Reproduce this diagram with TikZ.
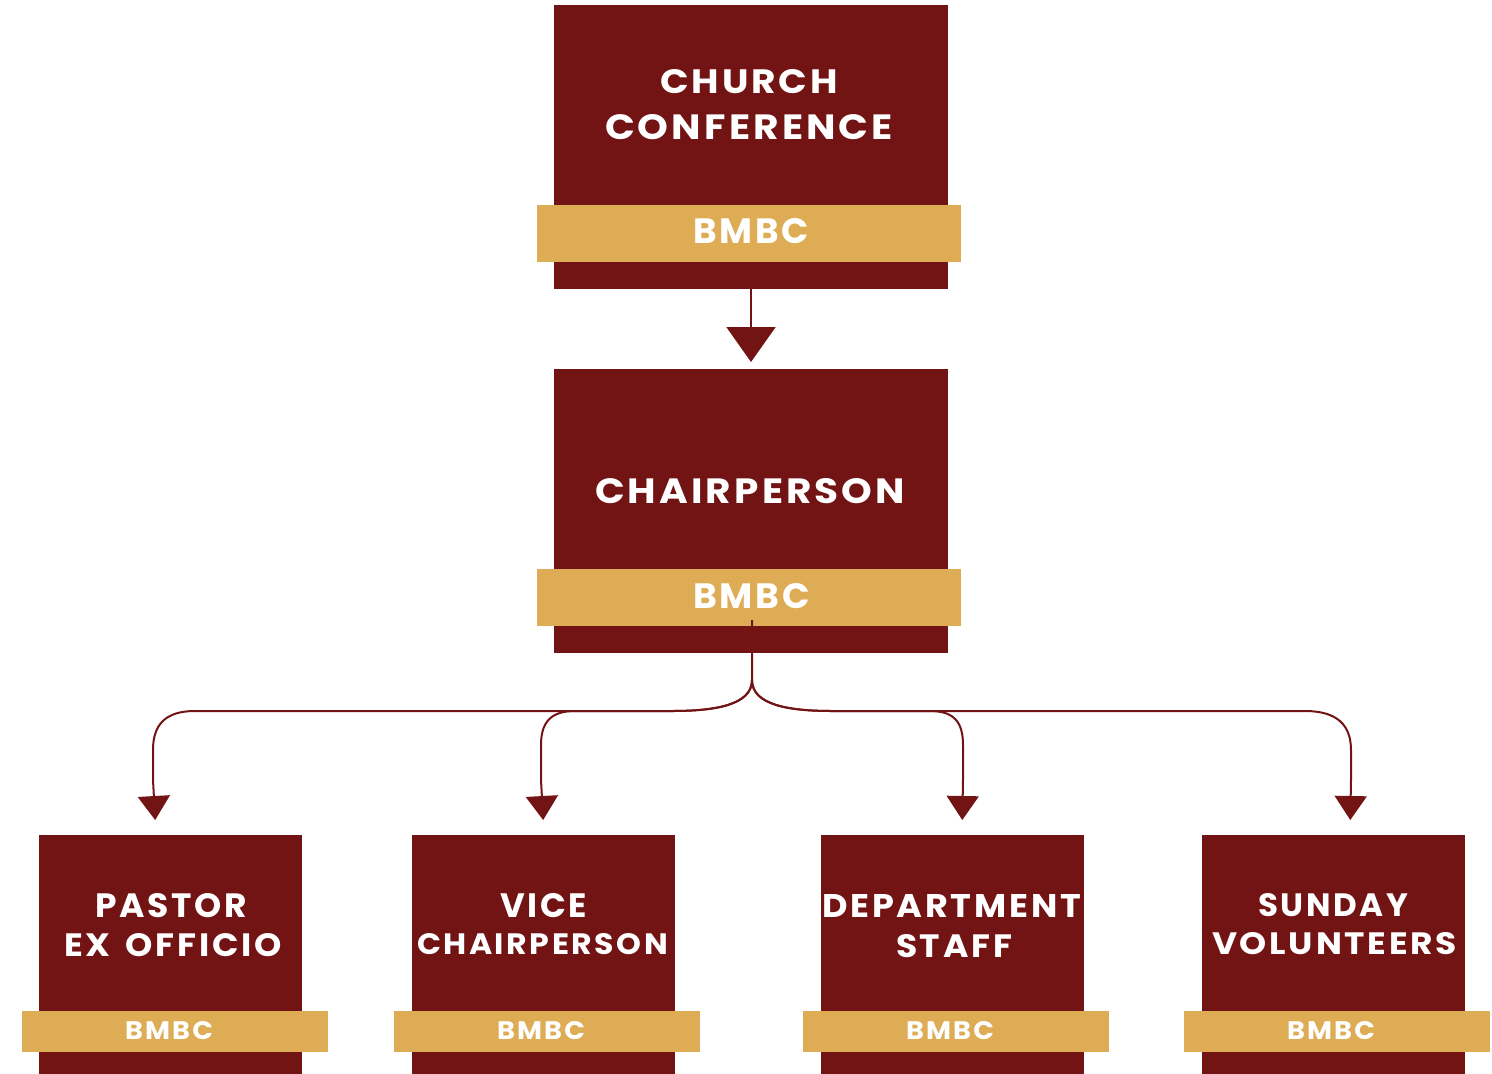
\documentclass[tikz,border=0pt]{standalone}
\usepackage{fontspec}
\usepackage{graphicx}
\setmainfont{Poppins}
\newfontfamily\lsfont{Poppins}[LetterSpace=8]
\usetikzlibrary{arrows.meta,calc}
\definecolor{maroon}{HTML}{721314}
\definecolor{gold}{HTML}{DDAC55}
\newcommand{\fitline}[3]{\resizebox{#1pt}{#2pt}{\lsfont\bfseries #3}}
\begin{document}
\begin{tikzpicture}[x=1pt,y=-1pt,
  box/.style={fill=maroon, inner sep=0pt, outer sep=0pt},
  bar/.style={fill=gold, inner sep=0pt, outer sep=0pt},
  txt/.style={text=white, inner sep=0pt, outer sep=0pt, anchor=base west},
  conn/.style={draw=maroon, line width=2pt},
  bigarrow/.style={conn, -{Triangle[width=49pt,length=35pt]}, shorten >=7pt},
  smallarrow/.style={conn, -{Triangle[width=32pt,length=24pt]}, shorten >=15pt}
]
\useasboundingbox (0,0) rectangle (1492,1074);

% top box
\node[box, minimum width=394pt, minimum height=284pt] (b1) at (751,147) {};
\node[bar, minimum width=424pt, minimum height=57pt] (bar1) at (749,233.5) {};
\node[txt] (t1a) at (660,93) {\fitline{178}{24}{CHURCH}};
\node[txt] (t1b) at (605,139) {\fitline{288}{25}{CONFERENCE}};
\node[txt] (m1) at (693,243) {\fitline{116}{25}{BMBC}};

% middle box
\node[box, minimum width=394pt, minimum height=284pt] (b2) at (751,511) {};
\node[bar, minimum width=424pt, minimum height=57pt] (bar2) at (749,597.5) {};
\node[txt] (t2) at (595,503) {\fitline{310}{25}{CHAIRPERSON}};
\node[txt] (m2) at (693,608) {\fitline{117}{25}{BMBC}};

% bottom boxes
\foreach \n/\cx/\bx/\mx in {p/170.5/175/125, v/543.5/547/497, d/952.5/956/906, s/1333.5/1337/1287}{
  \node[box, minimum width=263pt, minimum height=240pt] (b\n) at (\cx,955) {};
  \node[bar, minimum width=306pt, minimum height=41pt] (bar\n) at (\bx,1031.5) {};
  \node[txt] (m\n) at (\mx,1039) {\fitline{88}{18}{BMBC}};
}
\node[txt] (tpa) at (95,917) {\fitline{152}{24}{PASTOR}};
\node[txt] (tpb) at (64,956) {\fitline{218}{23}{EX\hspace{0.15em} OFFICIO}};
\node[txt] (tva) at (500,917) {\fitline{87}{24}{VICE}};
\node[txt] (tvb) at (417,954) {\fitline{251}{21}{CHAIRPERSON}};
\node[txt] (tda) at (822,917) {\fitline{259}{23}{DEPARTMENT}};
\node[txt] (tdb) at (896,957) {\fitline{116}{23}{STAFF}};
\node[txt] (tsa) at (1258,916) {\fitline{150}{23}{SUNDAY}};
\node[txt] (tsb) at (1212,954) {\fitline{245}{22}{VOLUNTEERS}};

% connectors
\draw[bigarrow] (b1.south) -- (b2.north);

\coordinate (src) at ($(bar2.south)+(3,-6)$);
\coordinate (split) at (752,680);
\draw[smallarrow] (src) -- (split) .. controls (752,705) and (715,711) .. (672,711) -- (195,711) .. controls (165,711) and (153,725) .. (153,750) -- (153,780) -- (bp.north -| 156,0);
\draw[smallarrow] (split) .. controls (752,705) and (715,711) .. (672,711) -- (575,711) .. controls (551,711) and (541,722) .. (541,745) -- (541,780) -- (bv.north -| 544,0);
\draw[smallarrow] (split) .. controls (752,705) and (789,711) .. (832,711) -- (930,711) .. controls (954,711) and (963,722) .. (963,745) -- (963,780) -- (bd.north -| 962,0);
\draw[smallarrow] (split) .. controls (752,705) and (789,711) .. (832,711) -- (1305,711) .. controls (1337,711) and (1351,725) .. (1351,750) -- (1351,780) -- (bs.north -| 1350,0);
\end{tikzpicture}
\end{document}
